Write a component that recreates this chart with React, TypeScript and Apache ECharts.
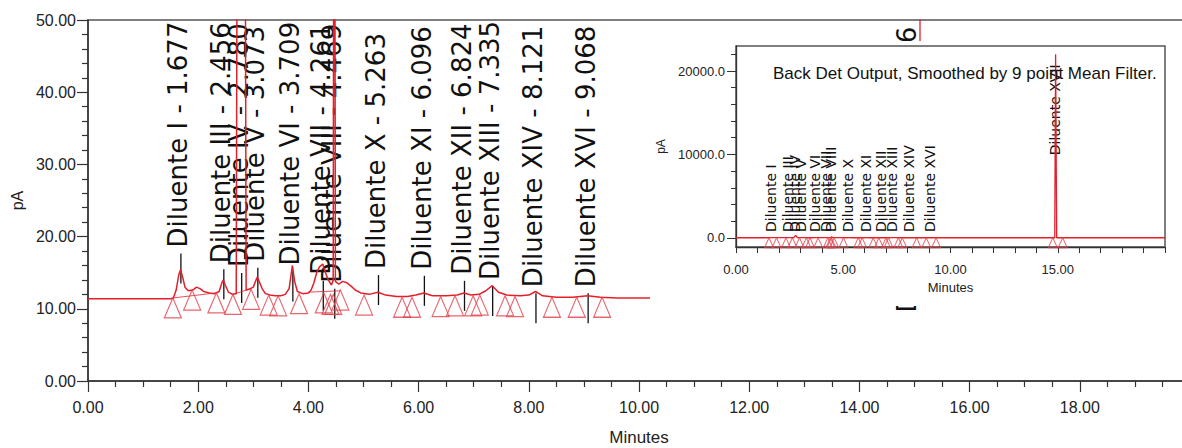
import React, { useEffect, useRef } from 'react';
import * as echarts from 'echarts';

// ---- main chromatogram trace (minutes, pA) ----
const traceTimes = [
  0.0, 1.5, 1.55, 1.6, 1.65, 1.68, 1.72, 1.76, 1.82, 1.9, 1.97, 2.03, 2.1, 2.2, 2.3, 2.38, 2.43, 2.456,
  2.49, 2.55, 2.62, 2.69, 2.78, 2.87, 2.92, 3.0, 3.05, 3.073, 3.1, 3.16, 3.22, 3.3, 3.4, 3.5, 3.58,
  3.65, 3.709, 3.75, 3.8, 3.9, 4.0, 4.05, 4.1, 4.15, 4.2, 4.261, 4.3, 4.36, 4.42, 4.45, 4.469, 4.49,
  4.55, 4.62, 4.7, 4.78, 4.85, 4.95, 5.1, 5.263, 5.4, 5.6, 5.8, 5.95, 6.096, 6.25, 6.5, 6.7, 6.824,
  6.95, 7.1, 7.22, 7.335, 7.45, 7.6, 7.85, 8.0, 8.121, 8.25, 8.5, 8.8, 9.068, 9.3, 9.6, 10.0, 10.25,
];
const traceValues = [
  11.4, 11.4, 11.5, 12.6, 14.8, 15.4, 14.3, 13.0, 12.5, 12.6, 13.0, 12.8, 12.4, 12.2, 12.1, 12.4, 13.6, 14.0,
  13.3, 12.3, 12.0, 12.1, 300, 12.6, 12.7, 13.0, 14.0, 14.4, 13.9, 12.8, 12.1, 11.9, 11.8, 11.8, 12.0,
  12.8, 16.0, 13.8, 12.4, 12.1, 12.2, 12.6, 13.6, 15.0, 15.8, 16.2, 15.2, 14.0, 13.3, 14.0, 120, 13.8,
  13.4, 13.8, 13.6, 13.1, 12.6, 12.2, 12.0, 12.3, 11.9, 11.7, 11.7, 11.9, 12.2, 11.8, 11.8, 11.9, 12.2,
  11.9, 12.0, 12.5, 13.2, 12.3, 11.9, 11.8, 11.9, 12.4, 11.8, 11.6, 11.6, 11.8, 11.6, 11.5, 11.5, 11.5,
];

// off-scale peak XVII edge visible above the inset
const spikeTimes = [15.1, 15.1];
const spikeValues = [11.5, 400];

// integration baselines
const baselineSegTimes = [[1.54, 2.33], [2.63, 2.96], [4.0, 4.58]];
const baselineSegValues = [[11.5, 12.2], [12.0, 12.8], [12.3, 12.5]];

// ---- peaks ----
const peakNames = [
  'Diluente I', 'Diluente III', 'Diluente IV', 'Diluente V', 'Diluente VI', 'Diluente VII', 'Diluente VIII',
  'Diluente X', 'Diluente XI', 'Diluente XII', 'Diluente XIII', 'Diluente XIV', 'Diluente XVI', 'Diluente XVII',
];
const peakTimes = [1.677, 2.456, 2.78, 3.073, 3.709, 4.261, 4.469, 5.263, 6.096, 6.824, 7.335, 8.121, 9.068, 14.906];
const labelBase = [18.5, 16.3, 15.8, 16.5, 16.0, 14.7, 13.6, 15.5, 15.4, 14.7, 14.0, 13.0, 13.0, 9.5];
const labelTick = [1, 1, 1, 1, 1, 1, 1, 1, 1, 1, 1, 1, 1, 0];
const insetLabelBase = [700, 700, 700, 700, 700, 700, 700, 700, 700, 700, 700, 700, 700, 9900];

// ---- peak start/end markers ----
const markerTimes = [1.54, 1.89, 2.33, 2.63, 2.96, 3.28, 3.45, 3.83, 4.28, 4.4, 4.45, 4.58, 5.01, 5.7, 5.88, 6.4, 6.66, 6.99, 7.11, 7.57, 7.75, 8.42, 8.87, 9.33];
const markerValues = [11.5, 12.6, 12.2, 12.0, 12.7, 11.9, 11.8, 12.1, 12.2, 12.0, 12.0, 12.6, 11.9, 11.6, 11.6, 11.7, 11.8, 11.8, 11.9, 11.8, 11.7, 11.6, 11.6, 11.6];

// ---- inset (full run) ----
const insetTailTimes = [14.86, 14.9, 14.95, 20.0];
const insetTailValues = [11.5, 22000, 11.5, 11.5];
const insetMarkerTimes = [14.77, 15.23];
const insetMarkerValues = [11.5, 11.5];

const mainXTicks = { min: 0, max: 20, interval: 2 };
const mainYTicks = { min: 0, max: 50, interval: 10 };
const insetYLabels = [0, 10000, 20000];
const insetYMinor = [2000, 4000, 6000, 8000, 12000, 14000, 16000, 18000, 22000];
const insetTitle = 'Back Det Output, Smoothed by 9 point Mean Filter.';

const RED = '#e3202a';
const TRI = '#e2404a';
const AX = '#333';
const TF = 'Liberation Sans, Arial, sans-serif';
const LF = 'DejaVu Sans, sans-serif';

export default function App() {
  const mainRef = useRef<HTMLDivElement>(null);
  const insetRef = useRef<HTMLDivElement>(null);

  useEffect(() => {
    const main = echarts.init(mainRef.current!, null, { renderer: 'svg' });
    const inset = echarts.init(insetRef.current!, null, { renderer: 'svg' });

    const trace = traceTimes.map((t, i) => [t, traceValues[i]]);
    const markers = markerTimes.map((t, i) => [t, markerValues[i]]);

    main.setOption({
      animation: false,
      grid: {
        left: 88, top: 20, width: 1102, height: 361, show: true, borderColor: '#555', borderWidth: 1.5,
        backgroundColor: 'transparent', containLabel: false, outerBoundsMode: 'none',
      },
      xAxis: {
        type: 'value', min: mainXTicks.min, max: mainXTicks.max, interval: mainXTicks.interval,
        name: 'Minutes', nameLocation: 'middle', nameGap: 48,
        nameTextStyle: { fontFamily: TF, fontSize: 17, color: '#222' },
        axisLine: { show: true, onZero: false, lineStyle: { color: AX, width: 1.5 } },
        axisTick: { show: true, length: 11, lineStyle: { color: AX, width: 1.2 } },
        minorTick: { show: true, splitNumber: 4, length: 6, lineStyle: { color: AX, width: 1.2 } },
        splitLine: { show: false },
        axisLabel: { margin: 18, showMaxLabel: false, formatter: (v: number) => v.toFixed(2), fontFamily: TF, fontSize: 16, color: '#222' },
      },
      yAxis: {
        type: 'value', min: mainYTicks.min, max: mainYTicks.max, interval: mainYTicks.interval,
        name: 'pA', nameLocation: 'middle', nameGap: 60,
        nameTextStyle: { fontFamily: TF, fontSize: 16, color: '#222' },
        axisLine: { show: true, lineStyle: { color: AX, width: 1.5 } },
        axisTick: { show: true, length: 11, lineStyle: { color: AX, width: 1.2 } },
        minorTick: { show: true, splitNumber: 5, length: 6, lineStyle: { color: AX, width: 1.2 } },
        splitLine: { show: false },
        axisLabel: { margin: 12, formatter: (v: number) => v.toFixed(2), fontFamily: TF, fontSize: 16, color: '#222' },
      },
      series: [
        {
          type: 'custom', z: 1, clip: false,
          data: peakTimes.map((t, i) => [t, labelBase[i]]),
          renderItem: (params: any, api: any) => {
            const i = params.dataIndex;
            const p = api.coord([api.value(0), api.value(1)]);
            const children: any[] = [
              {
                type: 'text', x: p[0] - 2, y: p[1], rotation: Math.PI / 2,
                style: { text: `${peakNames[i]} - ${peakTimes[i].toFixed(3)}`, fontSize: 26, fontFamily: LF, fill: '#111', align: 'left', verticalAlign: 'middle' },
              },
            ];
            if (labelTick[i]) {
              children.push({ type: 'line', shape: { x1: p[0] + 0.5, y1: p[1] + 6, x2: p[0] + 0.5, y2: p[1] + 36 }, style: { stroke: '#111', lineWidth: 1.3 } });
            }
            return { type: 'group', children };
          },
        },
        ...baselineSegTimes.map((ts, k) => ({
          type: 'line', z: 2, showSymbol: false, silent: true,
          data: ts.map((t, j) => [t, baselineSegValues[k][j]]),
          lineStyle: { color: RED, width: 0.8 },
        })),
        {
          type: 'line', z: 3, showSymbol: false, data: trace,
          lineStyle: { color: RED, width: 1.5 },
        },
        {
          type: 'line', z: 3, showSymbol: false, data: spikeTimes.map((t, i) => [t, spikeValues[i]]),
          lineStyle: { color: RED, width: 1.3 },
        },
        {
          type: 'scatter', z: 4, symbol: 'triangle', symbolSize: [17, 20], symbolOffset: [0, '50%'],
          data: markers,
          itemStyle: { color: 'rgba(255,255,255,0)', borderColor: TRI, borderWidth: 1.2 },
        },
      ],
    });

    const insetTrace = trace.concat(insetTailTimes.map((t, i) => [t, insetTailValues[i]]));
    const insetMarkers = markers.concat(insetMarkerTimes.map((t, i) => [t, insetMarkerValues[i]]));

    inset.setOption({
      animation: false,
      title: {
        text: insetTitle, left: 123, top: 24, padding: 0,
        textStyle: { fontFamily: TF, fontSize: 17, fontWeight: 'normal', color: '#111' },
      },
      grid: {
        left: 86, top: 5, width: 429, height: 201, show: true, borderColor: '#555', borderWidth: 1.5,
        backgroundColor: 'transparent', containLabel: false, outerBoundsMode: 'none',
      },
      xAxis: {
        type: 'value', min: 0, max: 20, interval: 5,
        name: 'Minutes', nameLocation: 'middle', nameGap: 33,
        nameTextStyle: { fontFamily: TF, fontSize: 13, color: '#222' },
        axisLine: { show: true, onZero: false, lineStyle: { color: AX, width: 1.3 } },
        axisTick: { show: true, length: 6, lineStyle: { color: AX } },
        minorTick: { show: true, splitNumber: 5, length: 6, lineStyle: { color: AX } },
        splitLine: { show: false },
        axisLabel: { margin: 16, showMaxLabel: false, formatter: (v: number) => v.toFixed(2), fontFamily: TF, fontSize: 13, color: '#222' },
      },
      yAxis: [
        {
          type: 'value', min: -1100, max: 23000, position: 'left', offset: 0,
          name: 'pA', nameLocation: 'middle', nameGap: 62,
          nameTextStyle: { fontFamily: TF, fontSize: 12, color: '#222' },
          axisLine: { show: true, lineStyle: { color: AX, width: 1.3 } },
          axisTick: { show: true, length: 9, customValues: insetYLabels, lineStyle: { color: AX } },
          splitLine: { show: false },
          axisLabel: { margin: 11, customValues: insetYLabels, formatter: (v: number) => v.toFixed(1), fontFamily: TF, fontSize: 13, color: '#222' },
        },
        {
          type: 'value', min: -1100, max: 23000, position: 'left', offset: 0,
          axisLine: { show: false },
          axisTick: { show: true, length: 5, customValues: insetYMinor, lineStyle: { color: AX } },
          splitLine: { show: false },
          axisLabel: { show: false },
        },
      ],
      series: [
        {
          type: 'custom', z: 1, clip: false,
          data: peakTimes.map((t, i) => [t, insetLabelBase[i]]),
          renderItem: (params: any, api: any) => {
            const i = params.dataIndex;
            const p = api.coord([api.value(0), api.value(1)]);
            return {
              type: 'text', x: p[0] - 1, y: p[1], rotation: Math.PI / 2,
              style: { text: peakNames[i], fontSize: 14, fontFamily: LF, fill: '#111', align: 'left', verticalAlign: 'middle' },
            };
          },
        },
        {
          type: 'line', z: 3, showSymbol: false, data: insetTrace,
          lineStyle: { color: RED, width: 1.3 },
        },
        {
          type: 'scatter', z: 4, symbol: 'triangle', symbolSize: [9, 10], symbolOffset: [0, '50%'],
          data: insetMarkers,
          itemStyle: { color: 'rgba(255,255,255,0)', borderColor: TRI, borderWidth: 1 },
        },
      ],
    });

    return () => {
      main.dispose();
      inset.dispose();
    };
  }, []);

  return (
    <div style={{ position: 'fixed', left: 0, top: 0, width: 1182, height: 448, background: '#fff', overflow: 'hidden' }}>
      <div ref={mainRef} style={{ position: 'absolute', left: 0, top: 0, width: 1182, height: 448 }} />
      <div ref={insetRef} style={{ position: 'absolute', left: 650, top: 41, width: 532, height: 265, background: '#fff' }} />
    </div>
  );
}
